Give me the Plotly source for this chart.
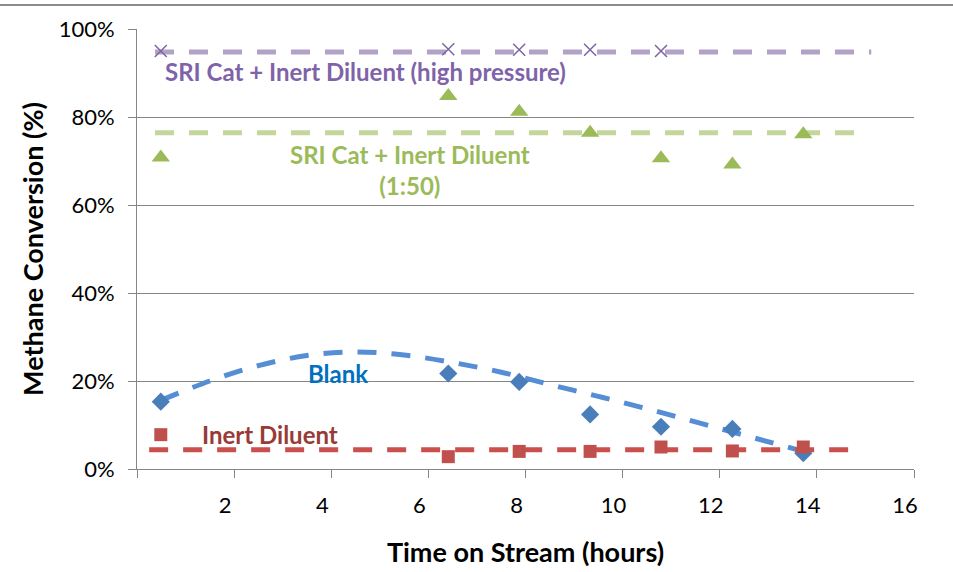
import plotly.graph_objects as go

# ---- data ----
time_h = [0.49, 6.41, 7.87, 9.33, 10.79, 12.26, 13.72]
blank = [15.3, 21.7, 19.8, 12.4, 9.6, 9.1, 3.6]
inert = [7.8, 2.8, 4.0, 4.0, 5.0, 4.1, 5.0]
sri_150 = [70.8, 84.8, 81.2, 76.4, 70.6, 69.2, 76.1]
time_hp = [0.49, 6.41, 7.87, 9.33, 10.79]
sri_hp = [95.0, 95.4, 95.3, 95.3, 95.0]

# trend lines
blank_trend_x = [0.49, 1.5, 2.5, 3.5, 4.5, 5.5, 6.5, 7.5, 8.5, 9.5, 10.5, 11.5, 12.5, 13.72]
blank_trend_y = [15.6, 20.0, 23.5, 25.8, 26.6, 25.9, 24.2, 22.0, 19.2, 16.5, 13.7, 10.7, 7.7, 4.0]
inert_trend_x = [0.25, 14.85]
inert_trend_y = [4.4, 4.4]
sri150_trend_x = [0.37, 14.95]
sri150_trend_y = [76.4, 76.4]
srihp_trend_x = [0.37, 15.12]
srihp_trend_y = [94.8, 94.8]

x_ticks = [0, 2, 4, 6, 8, 10, 12, 14, 16]
x_ticktext = ["", "2", "4", "6", "8", "10", "12", "14", "16"]
y_ticks = [0, 20, 40, 60, 80, 100]
y_ticktext = ["0%", "20%", "40%", "60%", "80%", "100%"]

FONT = "Lato"
DASH = "19px,15px"

fig = go.Figure()

# trend lines
fig.add_trace(go.Scatter(x=srihp_trend_x, y=srihp_trend_y, mode="lines",
                         line=dict(color="#B3A2C7", width=5, dash=DASH), hoverinfo="skip"))
fig.add_trace(go.Scatter(x=sri150_trend_x, y=sri150_trend_y, mode="lines",
                         line=dict(color="#C3D69B", width=5, dash=DASH), hoverinfo="skip"))
fig.add_trace(go.Scatter(x=blank_trend_x, y=blank_trend_y, mode="lines",
                         line=dict(color="#558ED5", width=5, dash=DASH, shape="spline"), hoverinfo="skip"))
fig.add_trace(go.Scatter(x=inert_trend_x, y=inert_trend_y, mode="lines",
                         line=dict(color="#C9504D", width=5, dash=DASH), hoverinfo="skip"))

# markers
fig.add_trace(go.Scatter(x=time_h, y=blank, mode="markers",
                         marker=dict(symbol="diamond", size=14, color="#4A7EBB")))
fig.add_trace(go.Scatter(x=time_h, y=inert, mode="markers",
                         marker=dict(symbol="square", size=13, color="#C0504D")))
fig.add_trace(go.Scatter(x=time_h, y=sri_150, mode="markers",
                         marker=dict(symbol="triangle-up", size=16, color="#9BBB59")))
fig.add_trace(go.Scatter(x=time_hp, y=sri_hp, mode="markers",
                         marker=dict(symbol="x-thin", size=12, line=dict(color="#7F64A3", width=1.5))))

# series labels
LS = 24
lab = dict(showarrow=False, xref="x", yref="y")
fig.add_annotation(text="SRI Cat + Inert Diluent (high pressure)", x=4.7, y=90.4,
                   font=dict(family=FONT, size=LS, weight="bold", color="#7F63A8"), **lab)
fig.add_annotation(text="SRI Cat + Inert Diluent<br>(1:50)", x=5.62, y=67.9,
                   font=dict(family=FONT, size=LS, weight="bold", color="#9BBB59"), **lab)
fig.add_annotation(text="Blank", x=4.14, y=21.8,
                   font=dict(family=FONT, size=LS, weight="bold", color="#0070C0"), **lab)
fig.add_annotation(text="Inert Diluent", x=1.3, y=7.8, xanchor="left",
                   font=dict(family=FONT, size=LS, weight="bold", color="#983B37"), **lab)

ml, mr, mt, mb = 137, 39, 29, 103
W, H = 953, 572
pw, ph = W - ml - mr, H - mt - mb
# top frame border
fig.add_shape(type="line", xref="paper", yref="paper", x0=-ml / pw, x1=(W - ml) / pw,
              y0=(H - mb - 5) / ph, y1=(H - mb - 5) / ph,
              line=dict(color="#8C8C8C", width=2))

fig.update_layout(
    width=W, height=H,
    margin=dict(l=ml, r=mr, t=mt, b=mb, autoexpand=False),
    paper_bgcolor="white", plot_bgcolor="white",
    showlegend=False,
    font=dict(family=FONT, size=22, color="#000000"),
    xaxis=dict(range=[0, 16], tickvals=x_ticks, ticktext=x_ticktext, automargin=False,
               showgrid=False, zeroline=False, showline=True, linecolor="#868686", linewidth=1,
               ticks="outside", ticklen=8, tickcolor="#868686", ticklabelshift=-9, ticklabelstandoff=9,
               tickfont=dict(family=FONT, size=22),
               title=dict(text="Time on Stream (hours)", font=dict(family=FONT, size=27, weight="bold"), standoff=25)),
    yaxis=dict(range=[0, 100], tickvals=y_ticks, ticktext=y_ticktext, automargin=False,
               showgrid=True, gridcolor="#868686", gridwidth=1, zeroline=False,
               showline=True, linecolor="#868686", linewidth=1,
               ticks="outside", ticklen=8, tickcolor="#868686", ticklabelstandoff=9,
               tickfont=dict(family=FONT, size=22),
               title=dict(text="Methane Conversion (%)", font=dict(family=FONT, size=27, weight="bold"), standoff=7)),
)

fig.write_html("out.html", config={"displayModeBar": False},
               post_script="document.body.style.margin='0px';")
